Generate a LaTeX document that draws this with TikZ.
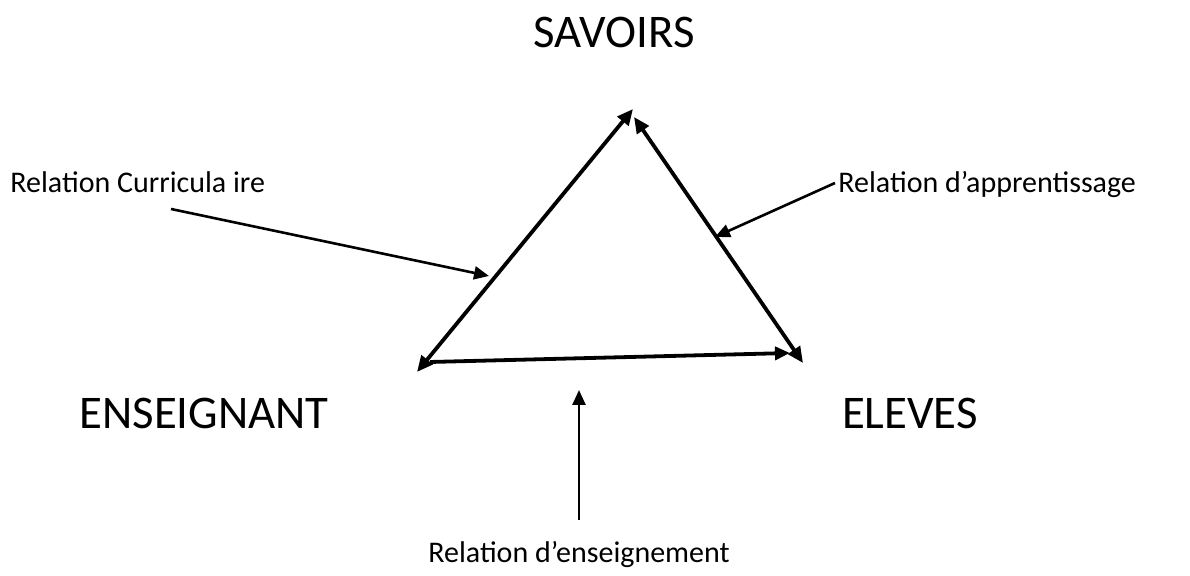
\documentclass[tikz,border=0pt]{standalone}
\usepackage{fontspec}
\setmainfont{Carlito}
\usetikzlibrary{arrows.meta,positioning}

\tikzset{
    pole/.style={font=\fontsize{23.4}{28}\selectfont, inner sep=0pt, anchor=base},
    rel/.style={font=\fontsize{15}{18}\selectfont, inner sep=0pt, anchor=base west},
    side/.style={line width=1.9pt, {Triangle[length=8pt,width=7pt]}-{Triangle[length=8pt,width=7pt]}},
    pointer/.style={line width=1.3pt, -{Triangle[length=7.5pt,width=6.5pt]}}
}

\begin{document}
\begin{tikzpicture}[x=0.5pt,y=-0.5pt]
    \useasboundingbox (0,0) rectangle (1190,576);

    % Poles
    \node[pole] (savoirs) at (614,48) {SAVOIRS};
    \node[pole] (ens) at (204,429) {ENSEIGNANT};
    \node[pole] (eleves) at (910,429) {ELEVES};

    % Corners of the triangle
    \coordinate (top1) at (633,109);
    \coordinate (top2) at (634,117);
    \coordinate (bl1) at (417,372);
    \coordinate (bl2) at (430,362);
    \coordinate (br1) at (790,353);
    \coordinate (br2) at (803,363);

    % Triangle edges
    \draw[side] (bl1) -- (top1);
    \draw[side] (top2) -- (br2);
    \draw[pointer, line width=1.9pt] (bl2) -- (br1);

    % Relation labels
    \node[rel] (curr) at (10,193) {Relation Curricula ire};
    \node[rel] (appr) at (838,193) {Relation d’apprentissage};
    \node[rel, anchor=base] (ensg) at (579,563) {Relation d’enseignement};

    % Pointers
    \coordinate (c1) at (171,209);
    \coordinate (c2) at (489,276);
    \coordinate (a1) at (835,183);
    \coordinate (a2) at (715,237);
    \coordinate (e1) at (579,520);
    \coordinate (e2) at (579,390);
    \draw[pointer] (c1) -- (c2);
    \draw[pointer] (a1) -- (a2);
    \draw[pointer] (e1) -- (e2);
\end{tikzpicture}
\end{document}
